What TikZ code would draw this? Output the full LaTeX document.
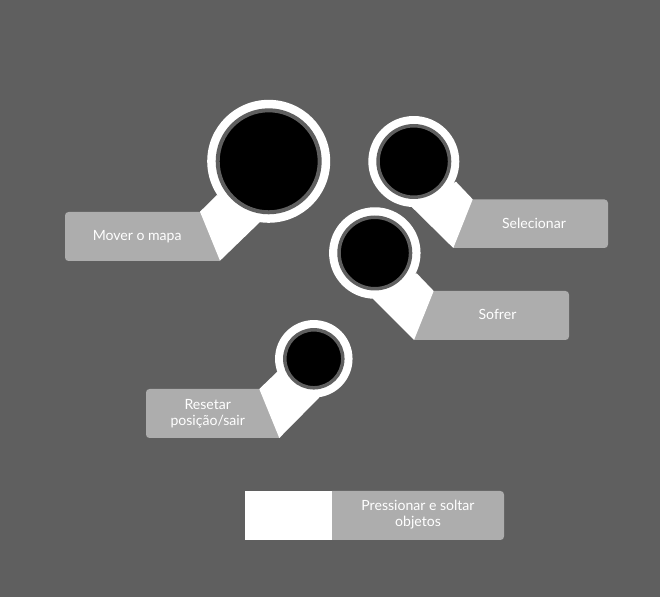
\documentclass[tikz,border=0pt]{standalone}
\usepackage{fontspec}
\setmainfont{Lato}
\definecolor{screen-gray}{HTML}{5F5F5F}
\definecolor{label-gray}{HTML}{ADADAD}
\definecolor{ring-gray}{HTML}{5F5F5F}

\begin{document}
\begin{tikzpicture}[
    x=0.02cm, y=-0.02cm,
    font=\fontsize{8}{9.1}\selectfont,
    halo/.style={circle, fill=white, inner sep=0pt},
    stick/.style={circle, fill=black, draw=ring-gray, inner sep=0pt},
    labeltext/.style={text=white, align=center, inner sep=0pt},
    labelbox/.style={fill=label-gray},
    tab/.style={fill=white}
]
\fill[screen-gray] (0,0) rectangle (660,597);
\useasboundingbox (0,0) rectangle (660,597);

% label bars
\fill[labelbox] (220,212) [rounded corners=2pt] -- (65,212) -- (65,261) [sharp corners] -- (220,261) -- cycle;
\fill[labelbox] (453,199.5) [rounded corners=2pt] -- (608,199.5) -- (608,248) [sharp corners] -- (453,248) -- cycle;
\fill[labelbox] (414,291) [rounded corners=2pt] -- (569,291) -- (569,340) [sharp corners] -- (414,340) -- cycle;
\fill[labelbox] (280,389) [rounded corners=2pt] -- (146,389) -- (146,438) [sharp corners] -- (280,438) -- cycle;
\fill[labelbox] (332,491) [rounded corners=2pt] -- (504,491) -- (504,540) [sharp corners] -- (332,540) -- cycle;

% white tabs
\fill[tab] (200,211.7) -- (220,260.7) -- (260,222) -- (217,195) -- cycle;
\fill[tab] (472.7,199.3) -- (453.3,248) -- (411.7,207) -- (456,181.7) -- cycle;
\fill[tab] (433.7,291) -- (414,340) -- (372.7,298.5) -- (416.7,273.3) -- cycle;
\fill[tab] (259.3,389) -- (279.3,438) -- (319.3,397.5) -- (277.3,371.7) -- cycle;
\fill[tab] (245.3,491) rectangle (332,540);

% sticks
\node[halo, minimum size=2.46cm] (leftHalo) at (268.7,161.3) {};
\node[stick, line width=0.08cm, minimum size=2.04cm] (leftStick) at (268.7,161.3) {};
\node[halo, minimum size=1.82cm] (selectHalo) at (413.8,161.5) {};
\node[stick, line width=0.07cm, minimum size=1.43cm] (selectStick) at (413.8,161.5) {};
\node[halo, minimum size=1.83cm] (hurtHalo) at (374.8,253) {};
\node[stick, line width=0.07cm, minimum size=1.43cm] (hurtStick) at (374.8,253) {};
\node[halo, minimum size=1.55cm] (resetHalo) at (313.8,358.8) {};
\node[stick, line width=0.07cm, minimum size=1.16cm] (resetStick) at (313.8,358.8) {};

% labels
\node[labeltext] (moveLabel) at (137.2,236.5) {Mover o mapa};
\node[labeltext] (selectLabel) at (534,223) {Selecionar};
\node[labeltext] (hurtLabel) at (497.5,314) {Sofrer};
\node[labeltext] (resetLabel) at (207.7,414) {Resetar\\posição/sair};
\node[labeltext] (grabLabel) at (418,515) {Pressionar e soltar\\objetos};
\end{tikzpicture}
\end{document}
